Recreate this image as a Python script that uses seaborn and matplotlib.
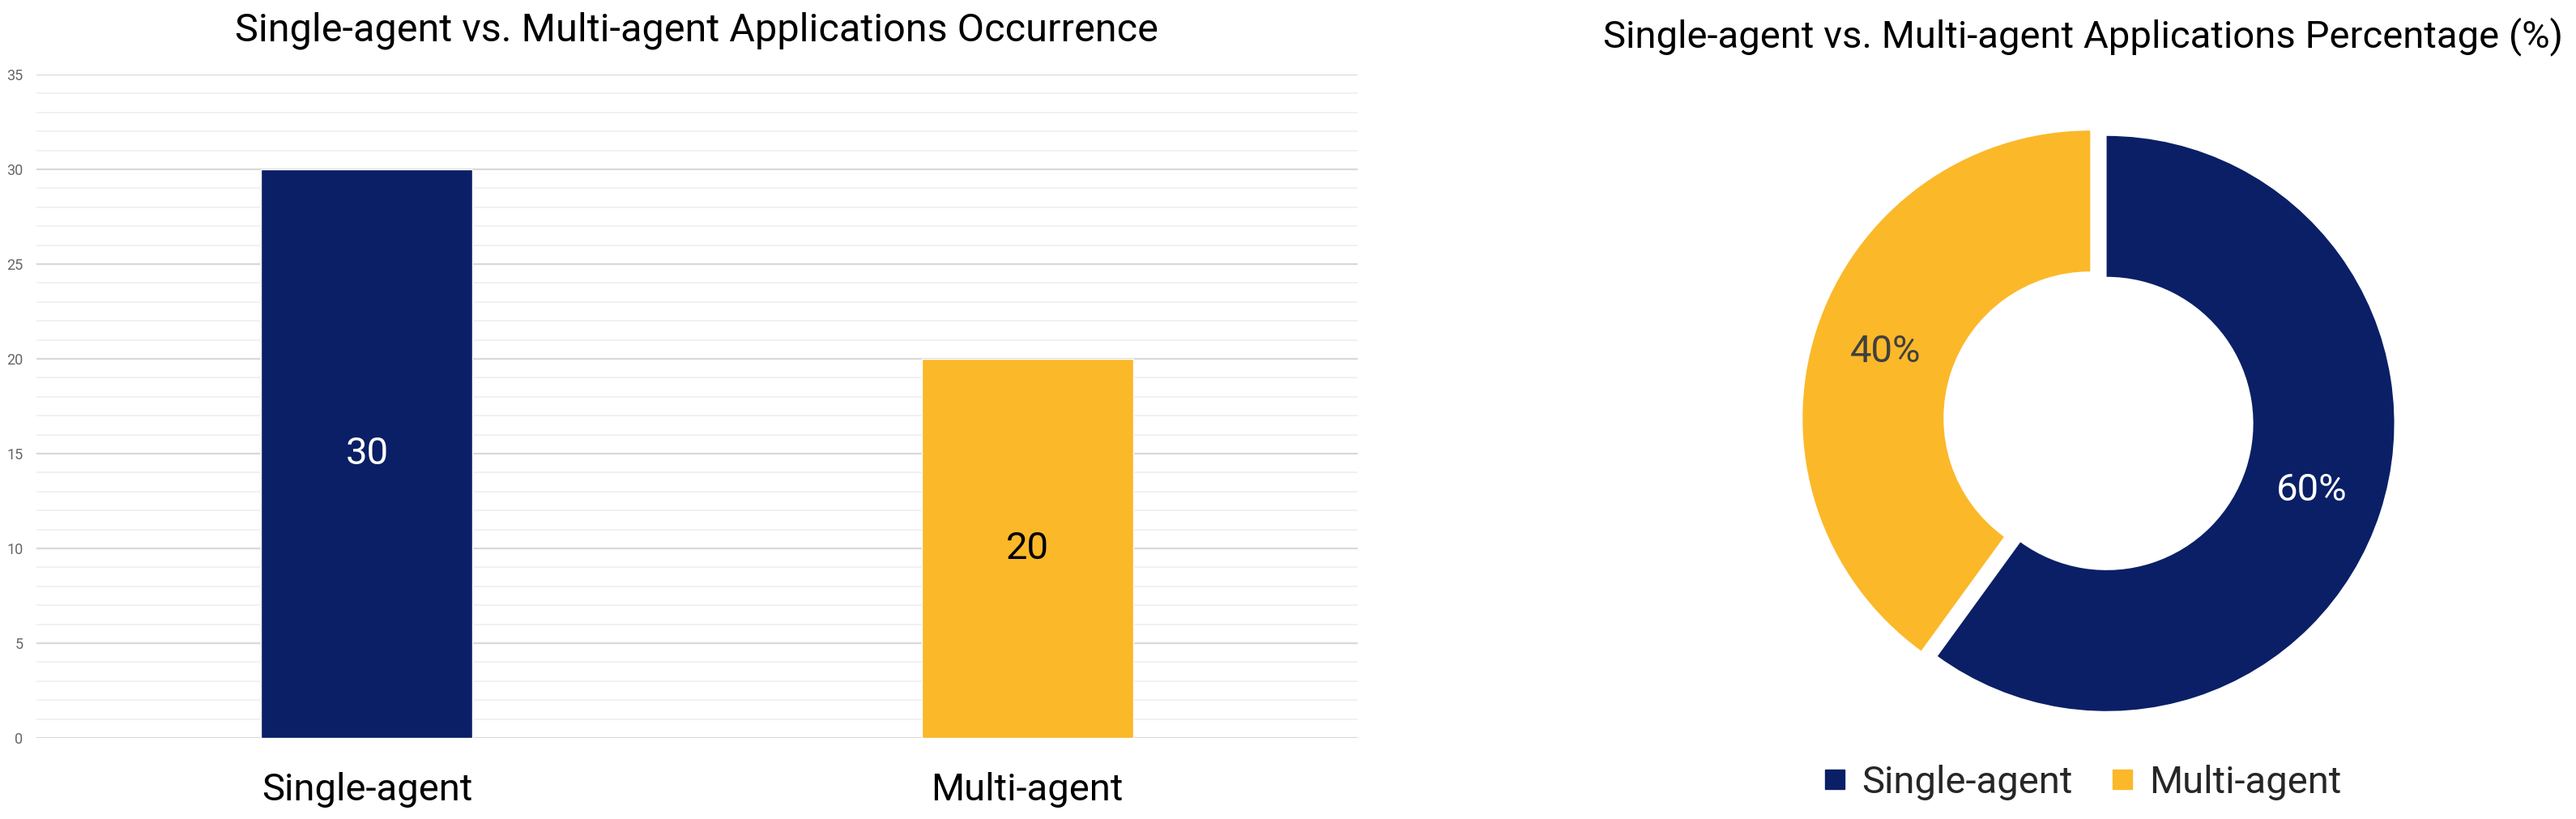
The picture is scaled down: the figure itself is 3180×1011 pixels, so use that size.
import numpy as np
import pandas as pd
import matplotlib
matplotlib.use("Agg")
import matplotlib.pyplot as plt
from matplotlib.ticker import MultipleLocator
from matplotlib.lines import Line2D
import seaborn as sns

categories = ["Single-agent", "Multi-agent"]
counts = [30, 20]
colors = ["#0A1F66", "#FBB829"]
label_colors = ["white", "black"]
pct_colors = ["white", "#404040"]

sns.set_theme(style="white")
plt.rcParams["font.family"] = ["Roboto", "DejaVu Sans"]

fig = plt.figure(figsize=(31.8, 10.11), dpi=100)

# ---------- bar chart ----------
ax = fig.add_axes([0.0142, 0.0989, 0.5128, 0.8101])
df = pd.DataFrame({"cat": categories, "n": counts})
sns.barplot(data=df, x="cat", y="n", hue="cat", palette=colors, legend=False,
            width=0.32, ax=ax, zorder=3, saturation=1)
ax.set_xlim(-0.5, 1.5)
ax.set_ylim(0, 35)
ax.yaxis.set_major_locator(MultipleLocator(5))
ax.yaxis.set_minor_locator(MultipleLocator(1))
ax.grid(axis="y", which="major", color="#d9d9d9", lw=1.6, zorder=0)
ax.grid(axis="y", which="minor", color="#efefef", lw=1.2, zorder=0)
ax.set_axisbelow(True)
for s in ax.spines.values():
    s.set_visible(False)
ax.tick_params(axis="y", which="both", length=0, labelsize=13, labelcolor="#666666", pad=12)
ax.tick_params(axis="x", length=0, labelsize=34, labelcolor="black", pad=30)
ax.set_xlabel("")
ax.set_ylabel("")
for patch, v, c in zip(ax.patches, counts, label_colors):
    ax.text(patch.get_x() + patch.get_width() / 2, v / 2, str(v), ha="center", va="center",
            fontsize=34, color=c, zorder=5)
fig.text(0.2705, 0.963, "Single-agent vs. Multi-agent Applications Occurrence",
         ha="center", va="center", fontsize=35, color="black")

# ---------- donut ----------
ax2 = fig.add_axes([0.6918, 0.0999, 0.2456, 0.7725])
wedges, texts, autotexts = ax2.pie(
    counts, colors=colors, startangle=90, counterclock=False,
    explode=[0.03, 0.03], autopct="%1.0f%%", pctdistance=0.75,
    wedgeprops=dict(width=0.49, edgecolor="none"), radius=1.0,
    textprops=dict(fontsize=34))
for t, c in zip(autotexts, pct_colors):
    t.set_color(c)
ax2.set_xlim(-1.1, 1.1)
ax2.set_ylim(-1.1, 1.1)
ax2.set_aspect("equal")
fig.text(0.8085, 0.955, "Single-agent vs. Multi-agent Applications Percentage (%)",
         ha="center", va="center", fontsize=34, color="black")

handles = [Line2D([], [], marker="s", ls="none", markersize=17, color=c) for c in colors]
fig.legend(handles, categories, loc="center", bbox_to_anchor=(0.8085, 0.045), ncol=2,
           frameon=False, fontsize=34, handlelength=0.6, handletextpad=0.4,
           columnspacing=1.0)

fig.savefig("out.png", dpi=100)
